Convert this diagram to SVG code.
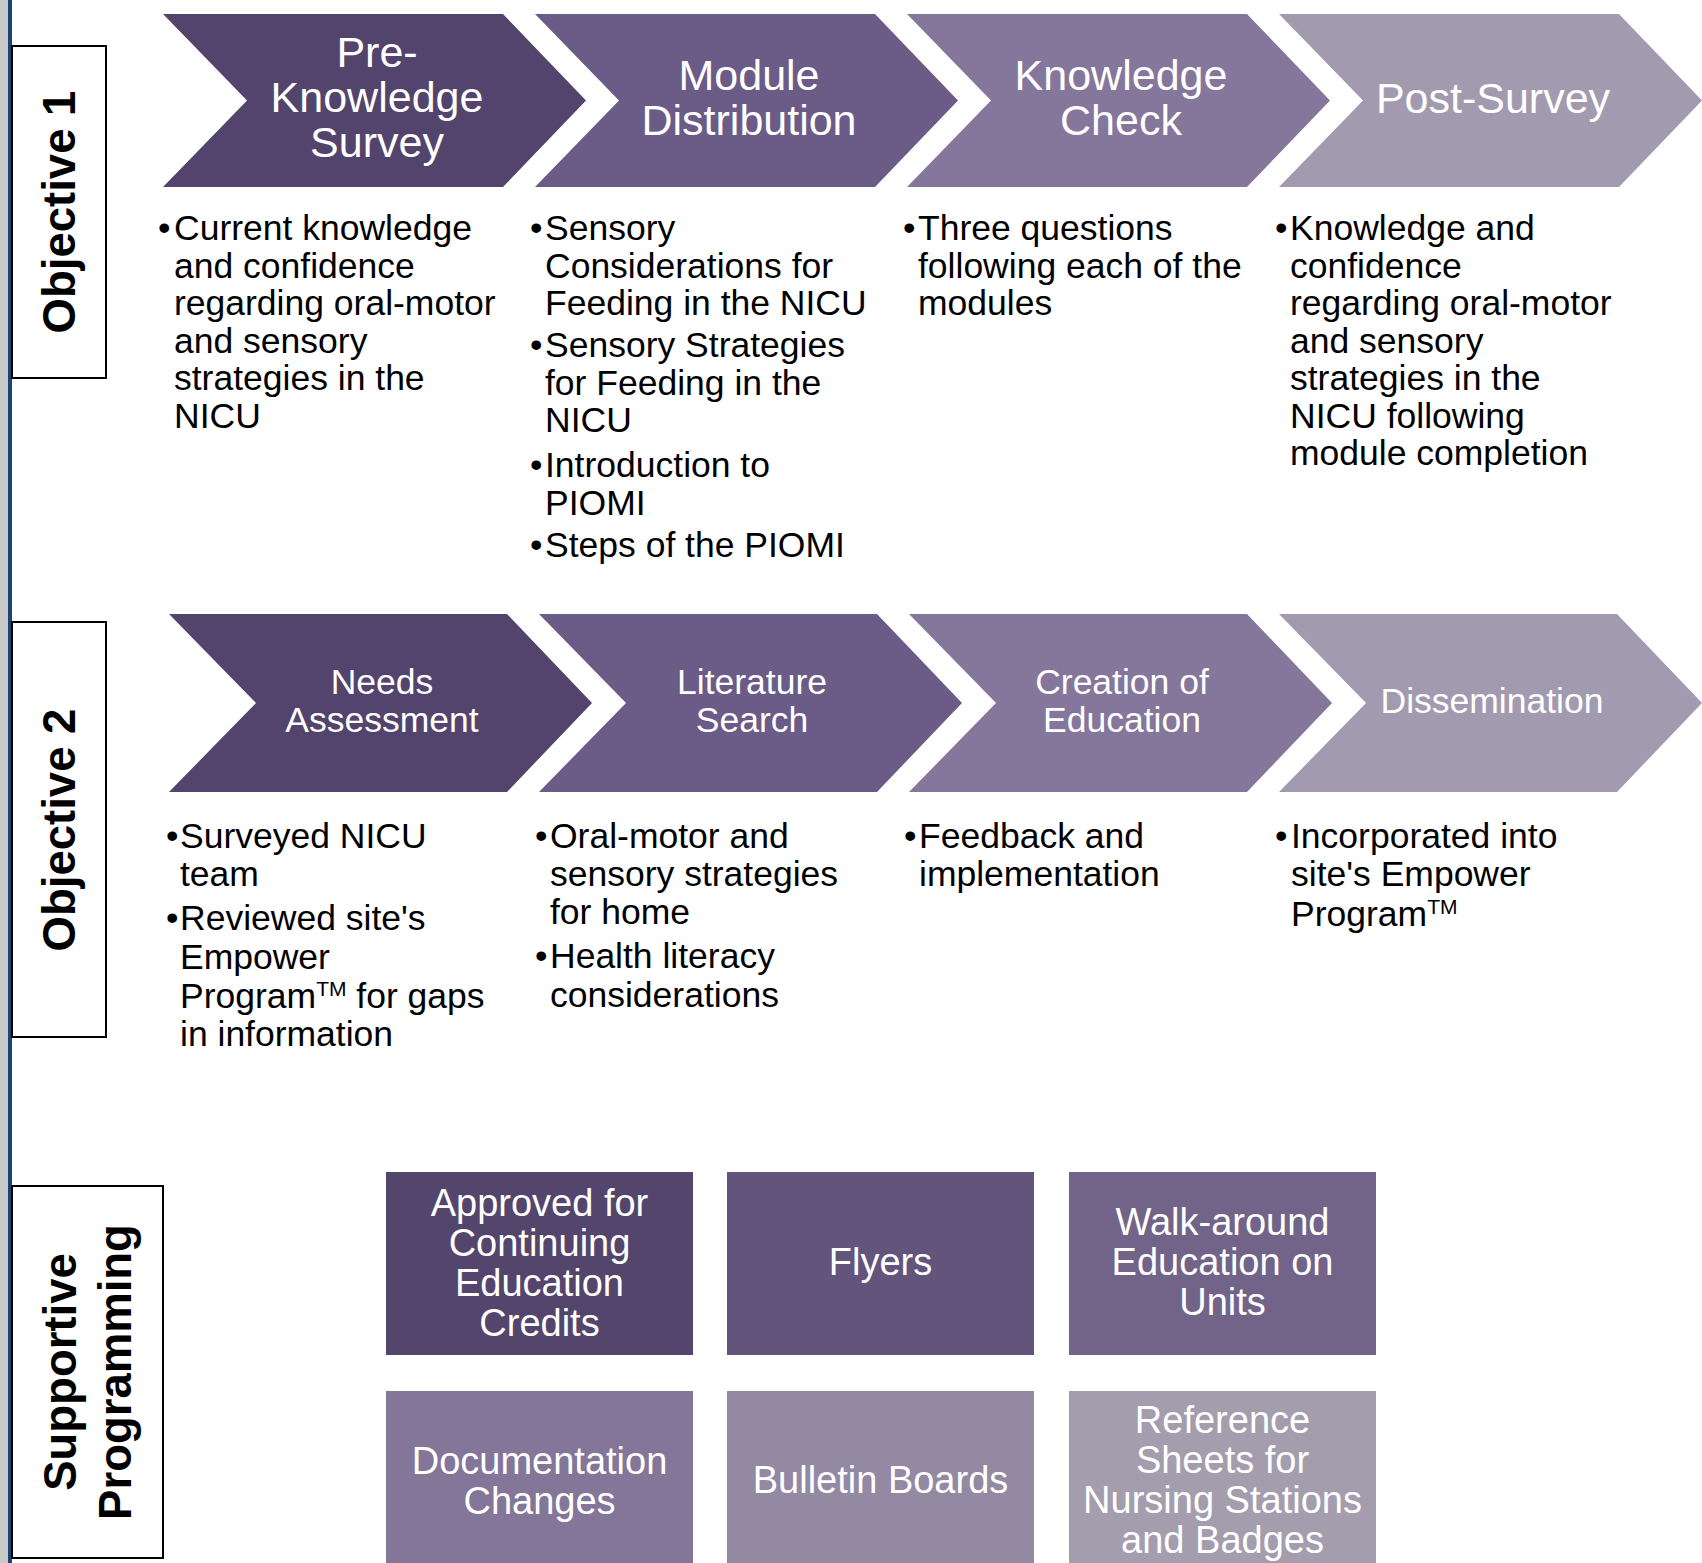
<svg xmlns="http://www.w3.org/2000/svg" width="1702" height="1563" viewBox="0 0 1702 1563">
<style>
.hd{font-family:"Liberation Sans",Arial,sans-serif;fill:#fff;text-anchor:middle}
.h1{font-size:43px}
.h2{font-size:35.5px}
.bx{font-size:38px}
.bd{font-family:"Liberation Sans",Arial,sans-serif;font-size:35.5px;fill:#000}
.tm{font-size:21px}
.side{font-family:"Liberation Sans",Arial,sans-serif;font-size:45.5px;font-weight:bold;fill:#000;text-anchor:middle}
.lab{fill:#fff;stroke:#000;stroke-width:2}
.c1{fill:#53446d}.c2{fill:#6b5b87}.c3{fill:#85779b}.c4{fill:#a29bb0}
.b1{fill:#54456d}.b2{fill:#62547a}.b3{fill:#726489}.b4{fill:#837698}.b5{fill:#9389a3}.b6{fill:#a39dae}
</style>
<rect x="0" y="0" width="1702" height="1563" fill="#fff"/>
<rect x="0" y="0" width="8" height="1563" fill="#c9c9c9"/>
<rect x="8" y="0" width="4" height="1563" fill="#1c4470"/>

<g id="label-obj1">
<rect class="lab" x="12" y="46" width="94" height="332"/>
<text class="side" transform="translate(75,212) rotate(-90)">Objective 1</text>
</g>
<g id="label-obj2">
<rect class="lab" x="12" y="622" width="94" height="415"/>
<text class="side" transform="translate(75,830) rotate(-90)">Objective 2</text>
</g>
<g id="label-support">
<rect class="lab" x="12" y="1186" width="151" height="372"/>
<text class="side" transform="translate(76,1372) rotate(-90)">Supportive</text>
<text class="side" transform="translate(131,1372) rotate(-90)">Programming</text>
</g>

<g id="pre-knowledge-survey">
<polygon class="c1" points="163,14 503,14 586,100.5 503,187 163,187 247,100.5"/>
<text class="hd h1"><tspan x="377" y="67">Pre-</tspan><tspan x="377" y="112">Knowledge</tspan><tspan x="377" y="157">Survey</tspan></text>
<text class="bd" x="158" y="240">•</text>
<text class="bd"><tspan x="174" y="240">Current knowledge</tspan><tspan x="174" y="277.5">and confidence</tspan><tspan x="174" y="315">regarding oral-motor</tspan><tspan x="174" y="352.5">and sensory</tspan><tspan x="174" y="390">strategies in the</tspan><tspan x="174" y="427.5">NICU</tspan></text>
</g>

<g id="module-distribution">
<polygon class="c2" points="535,14 875,14 958,100.5 875,187 535,187 619,100.5"/>
<text class="hd h1"><tspan x="749" y="90">Module</tspan><tspan x="749" y="135">Distribution</tspan></text>
<text class="bd"><tspan x="530" y="240">•</tspan><tspan x="530" y="357">•</tspan><tspan x="530" y="477">•</tspan><tspan x="530" y="557">•</tspan></text>
<text class="bd"><tspan x="545" y="240">Sensory</tspan><tspan x="545" y="277.5">Considerations for</tspan><tspan x="545" y="315">Feeding in the NICU</tspan><tspan x="545" y="357">Sensory Strategies</tspan><tspan x="545" y="394.5">for Feeding in the</tspan><tspan x="545" y="432">NICU</tspan><tspan x="545" y="477">Introduction to</tspan><tspan x="545" y="514.5">PIOMI</tspan><tspan x="545" y="557">Steps of the PIOMI</tspan></text>
</g>

<g id="knowledge-check">
<polygon class="c3" points="907,14 1247,14 1330,100.5 1247,187 907,187 991,100.5"/>
<text class="hd h1"><tspan x="1121" y="90">Knowledge</tspan><tspan x="1121" y="135">Check</tspan></text>
<text class="bd" x="903" y="240">•</text>
<text class="bd"><tspan x="918" y="240">Three questions</tspan><tspan x="918" y="277.5">following each of the</tspan><tspan x="918" y="315">modules</tspan></text>
</g>

<g id="post-survey">
<polygon class="c4" points="1279,14 1619,14 1702,100.5 1619,187 1279,187 1363,100.5"/>
<text class="hd h1" x="1493" y="113">Post-Survey</text>
<text class="bd" x="1275" y="240">•</text>
<text class="bd"><tspan x="1290" y="240">Knowledge and</tspan><tspan x="1290" y="277.5">confidence</tspan><tspan x="1290" y="315">regarding oral-motor</tspan><tspan x="1290" y="352.5">and sensory</tspan><tspan x="1290" y="390">strategies in the</tspan><tspan x="1290" y="427.5">NICU following</tspan><tspan x="1290" y="465">module completion</tspan></text>
</g>

<g id="needs-assessment">
<polygon class="c1" points="169,614 507,614 592,703 507,792 169,792 256,703"/>
<text class="hd h2"><tspan x="382" y="694">Needs</tspan><tspan x="382" y="732">Assessment</tspan></text>
<text class="bd"><tspan x="166" y="848">•</tspan><tspan x="166" y="930">•</tspan></text>
<text class="bd"><tspan x="180" y="848">Surveyed NICU</tspan><tspan x="180" y="886">team</tspan><tspan x="180" y="930">Reviewed site's</tspan><tspan x="180" y="968.5">Empower</tspan><tspan x="180" y="1008">Program</tspan><tspan class="tm" dy="-12">TM</tspan><tspan dy="12"> for gaps</tspan><tspan x="180" y="1046">in information</tspan></text>
</g>

<g id="literature-search">
<polygon class="c2" points="539,614 877,614 962,703 877,792 539,792 626,703"/>
<text class="hd h2"><tspan x="752" y="694">Literature</tspan><tspan x="752" y="732">Search</tspan></text>
<text class="bd"><tspan x="535" y="848">•</tspan><tspan x="535" y="968">•</tspan></text>
<text class="bd"><tspan x="550" y="848">Oral-motor and</tspan><tspan x="550" y="886">sensory strategies</tspan><tspan x="550" y="924">for home</tspan><tspan x="550" y="968">Health literacy</tspan><tspan x="550" y="1007">considerations</tspan></text>
</g>

<g id="creation-of-education">
<polygon class="c3" points="909,614 1247,614 1332,703 1247,792 909,792 996,703"/>
<text class="hd h2"><tspan x="1122" y="694">Creation of</tspan><tspan x="1122" y="732">Education</tspan></text>
<text class="bd" x="904" y="848">•</text>
<text class="bd"><tspan x="919" y="848">Feedback and</tspan><tspan x="919" y="886">implementation</tspan></text>
</g>

<g id="dissemination">
<polygon class="c4" points="1279,614 1617,614 1702,703 1617,792 1279,792 1366,703"/>
<text class="hd h2" x="1492" y="713">Dissemination</text>
<text class="bd" x="1275" y="848">•</text>
<text class="bd"><tspan x="1291" y="848">Incorporated into</tspan><tspan x="1291" y="886">site's Empower</tspan><tspan x="1291" y="926">Program</tspan><tspan class="tm" dy="-12">TM</tspan></text>
</g>

<g id="continuing-education">
<rect class="b1" x="386" y="1172" width="307" height="183"/>
<text class="hd bx"><tspan x="539.5" y="1216">Approved for</tspan><tspan x="539.5" y="1256">Continuing</tspan><tspan x="539.5" y="1296">Education</tspan><tspan x="539.5" y="1336">Credits</tspan></text>
</g>
<g id="flyers">
<rect class="b2" x="727" y="1172" width="307" height="183"/>
<text class="hd bx" x="880.5" y="1275">Flyers</text>
</g>
<g id="walk-around">
<rect class="b3" x="1069" y="1172" width="307" height="183"/>
<text class="hd bx"><tspan x="1222.5" y="1235">Walk-around</tspan><tspan x="1222.5" y="1275">Education on</tspan><tspan x="1222.5" y="1315">Units</tspan></text>
</g>
<g id="documentation">
<rect class="b4" x="386" y="1391" width="307" height="172"/>
<text class="hd bx"><tspan x="539.5" y="1474">Documentation</tspan><tspan x="539.5" y="1514">Changes</tspan></text>
</g>
<g id="bulletin-boards">
<rect class="b5" x="727" y="1391" width="307" height="172"/>
<text class="hd bx" x="880.5" y="1493">Bulletin Boards</text>
</g>
<g id="reference-sheets">
<rect class="b6" x="1069" y="1391" width="307" height="172"/>
<text class="hd bx"><tspan x="1222.5" y="1433">Reference</tspan><tspan x="1222.5" y="1473">Sheets for</tspan><tspan x="1222.5" y="1513">Nursing Stations</tspan><tspan x="1222.5" y="1553">and Badges</tspan></text>
</g>
<g id="connectors"></g>
</svg>
